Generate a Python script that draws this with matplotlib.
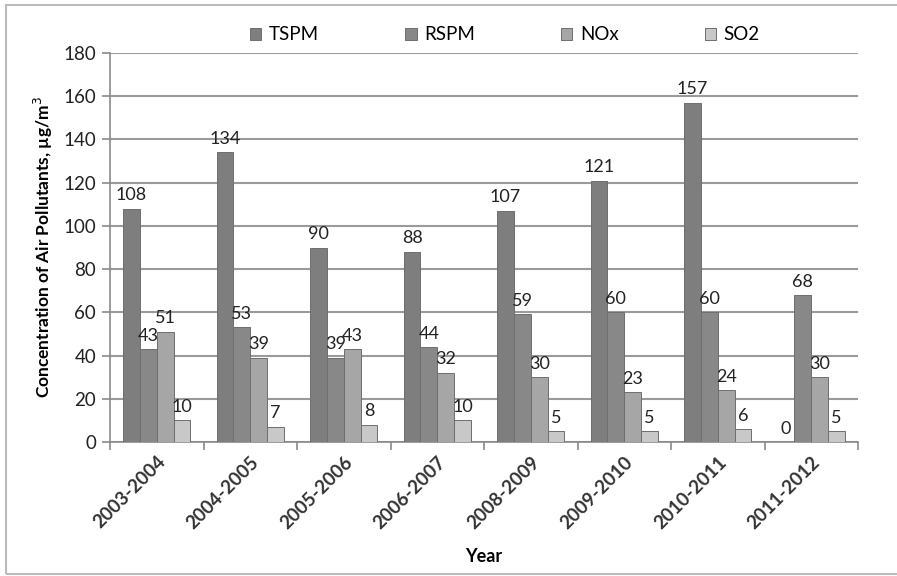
import matplotlib.pyplot as plt
import numpy as np
from matplotlib.patches import Rectangle

plt.rcParams['font.family'] = ['Lato', 'DejaVu Sans']

years = ['2003-2004', '2004-2005', '2005-2006', '2006-2007',
         '2008-2009', '2009-2010', '2010-2011', '2011-2012']
tspm = [108, 134, 90, 88, 107, 121, 157, 0]
rspm = [43, 53, 39, 44, 59, 60, 60, 68]
nox = [51, 39, 43, 32, 30, 23, 24, 30]
so2 = [10, 7, 8, 10, 5, 5, 6, 5]

names = ['TSPM', 'RSPM', 'NOx', 'SO2']
colors = ['#7e7e7e', '#888888', '#a6a6a6', '#c8c8c8']

fig = plt.figure(figsize=(8.97, 5.76), dpi=100)
ax = fig.add_axes([110/897, 1-442/576, (858-110)/897, (442-53)/576])

x = np.arange(len(years))
w = 0.18
for k, (vals, c, nm) in enumerate(zip([tspm, rspm, nox, so2], colors, names)):
    pos = x + (k - 1.5) * w
    bars = ax.bar(pos, vals, width=w, color=c, edgecolor='#6e6e6e', linewidth=0.7,
                  label=nm, zorder=3)
    for p, v in zip(pos, vals):
        ax.text(p, v + 2.5, str(v), ha='center', va='bottom', fontsize=13,
                color='#222222', zorder=4)

ax.set_ylim(0, 180)
ax.set_xlim(-0.5, len(years) - 0.5)
ax.set_yticks(range(0, 181, 20))
ax.yaxis.grid(True, color='#9a9a9a', linewidth=1.5, zorder=0)
ax.set_axisbelow(True)
for s in ['top', 'right']:
    ax.spines[s].set_visible(False)
ax.spines['left'].set_color('#8a8a8a')
ax.spines['bottom'].set_color('#8a8a8a')
ax.spines['left'].set_linewidth(1.2)
ax.spines['bottom'].set_linewidth(1.2)

ax.set_xticks(np.arange(len(years) + 1) - 0.5, minor=False)
ax.set_xticklabels([])
ax.set_xticks(x, minor=True)
ax.set_xticklabels(years, minor=True, rotation=45, ha='right', rotation_mode='anchor',
                   fontsize=13.5, fontweight='bold', color='#333333')
ax.tick_params(axis='x', which='minor', length=0, pad=8)
ax.tick_params(axis='x', which='major', length=6, color='#8a8a8a', width=1.2)
ax.tick_params(axis='y', length=6, color='#8a8a8a', width=1.2, labelsize=13.5,
               labelcolor='#222222', pad=4)

ax.set_ylabel('Concentration of Air Pollutants, µg/m$^3$', fontsize=12.5,
              fontweight='bold', labelpad=6)
ax.set_xlabel('Year', fontsize=13, fontweight='bold', labelpad=12)

fig.legend(loc='center', bbox_to_anchor=(505/897, 1-35/576), ncol=4, frameon=False,
           fontsize=13.5, handlelength=0.6, handleheight=0.6, handletextpad=0.4,
           columnspacing=4.6)

fig.patches.append(Rectangle((6/897, 2/576), 1.2, 1-7/576, transform=fig.transFigure,
                             fill=False, edgecolor='#bbbbbb', linewidth=1.5))

fig.savefig('out.png')
